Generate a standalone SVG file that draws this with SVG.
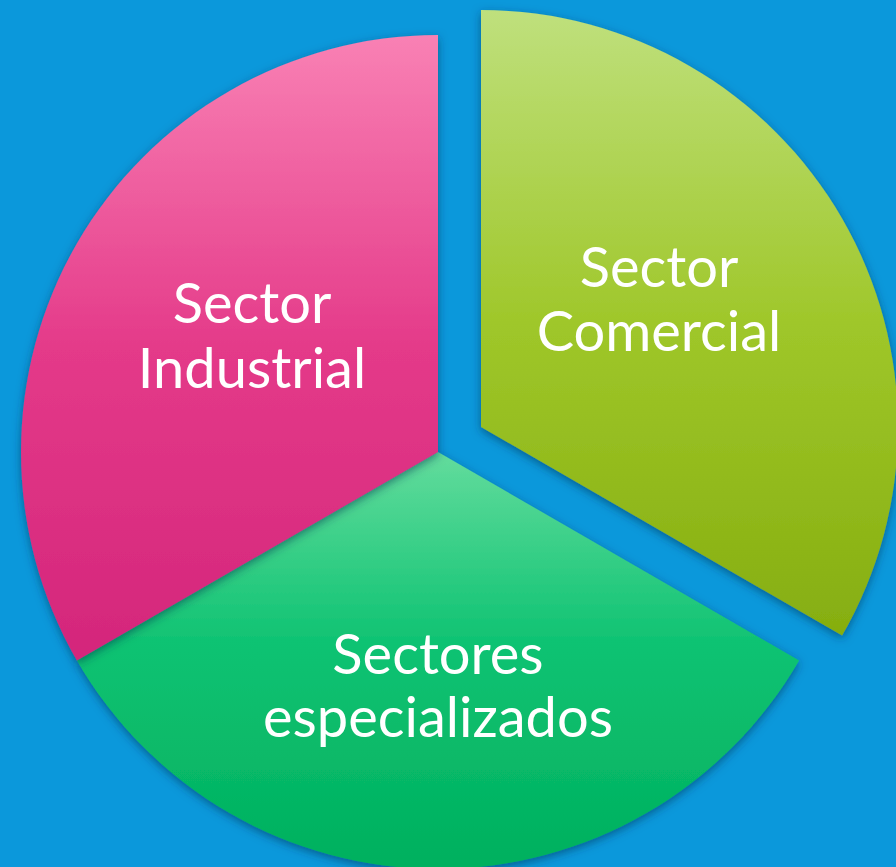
<svg xmlns="http://www.w3.org/2000/svg" width="896" height="867" viewBox="0 0 896 867">
  <defs>
    <linearGradient id="gPink" gradientUnits="userSpaceOnUse" x1="0" y1="35" x2="0" y2="660">
      <stop offset="0" stop-color="#f981b4"/>
      <stop offset="0.5" stop-color="#e43a89"/>
      <stop offset="1" stop-color="#d4267b"/>
    </linearGradient>
    <linearGradient id="gLime" gradientUnits="userSpaceOnUse" x1="0" y1="10" x2="0" y2="635">
      <stop offset="0" stop-color="#bfe07d"/>
      <stop offset="0.5" stop-color="#9fc72a"/>
      <stop offset="1" stop-color="#86ae10"/>
    </linearGradient>
    <linearGradient id="gGreen" gradientUnits="userSpaceOnUse" x1="0" y1="452" x2="0" y2="869">
      <stop offset="0" stop-color="#63dc9d"/>
      <stop offset="0.45" stop-color="#10c373"/>
      <stop offset="1" stop-color="#00b05e"/>
    </linearGradient>
    <filter id="shadow" x="-10%" y="-10%" width="120%" height="120%">
      <feDropShadow dx="0" dy="3" stdDeviation="5" flood-color="#00304f" flood-opacity="0.55"/>
    </filter>
  </defs>
  <style>
    .seg { filter: url(#shadow); }
    .lbl { font-family: Lato, "Open Sans", "Noto Sans", sans-serif; font-size: 56px; fill: #ffffff; text-anchor: middle; }
  </style>
  <rect width="896" height="867" fill="#0b98db"/>
  <g id="sectores-especializados">
    <path class="seg" d="M438,452 L76.9,660.5 A417,417 0 0 0 799.1,660.5 Z" fill="url(#gGreen)"/>
    <text class="lbl" x="438" y="674">Sectores</text>
    <text class="lbl" x="438" y="737">especializados</text>
  </g>
  <g id="sector-industrial">
    <path class="seg" d="M438,452 L438,35 A417,417 0 0 0 76.9,660.5 Z" fill="url(#gPink)"/>
    <text class="lbl" x="252" y="323">Sector</text>
    <text class="lbl" x="252" y="388">Industrial</text>
  </g>
  <g id="sector-comercial">
    <path class="seg" d="M481,427 L481,10 A417,417 0 0 1 842.1,635.5 Z" fill="url(#gLime)"/>
    <text class="lbl" x="659" y="287">Sector</text>
    <text class="lbl" x="659" y="351">Comercial</text>
  </g>
  <g id="connectors"/>
</svg>
